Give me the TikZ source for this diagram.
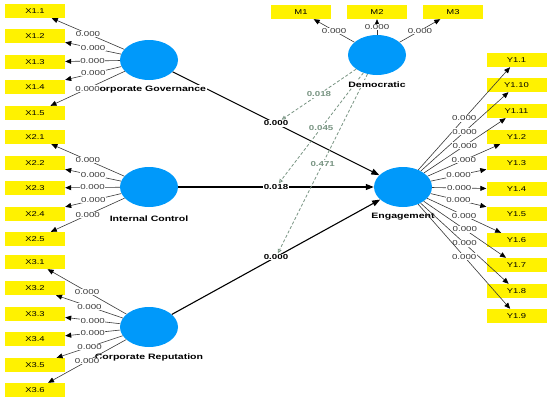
\documentclass[tikz,border=0pt]{standalone}
\usepackage{fontspec}
\setmainfont{Liberation Sans}[FakeStretch=1.35]
\usepackage{tikz}
\usetikzlibrary{
  arrows.meta,
  shapes.geometric,
  positioning
}
\usepackage{xcolor}
\definecolor{latblue}{RGB}{0, 153, 250}
\definecolor{indyellow}{RGB}{255, 242, 0}
\definecolor{loadgray}{RGB}{55, 55, 55}
\definecolor{modclr}{RGB}{120, 148, 130}
\tikzset{
  % Latent variables
  latent/.style   = {ellipse, fill=latblue, minimum width=58pt, minimum height=40pt},
  latlab/.style   = {font=\fontsize{7.8}{9}\selectfont\bfseries, fill=white, inner sep=1pt},
  % Indicators
  indbox/.style   = {rectangle, fill=indyellow, minimum width=60pt, minimum height=14pt,
                     inner sep=0pt, font=\fontsize{7}{8}\selectfont},
  % Outer loadings
  loadline/.style = {-{Triangle[length=6pt, width=5pt, color=black]}, draw=loadgray, line width=0.6pt},
  loadlab/.style  = {midway, fill=white, inner sep=0.6pt, text=loadgray,
                     font=\fontsize{7.2}{8}\selectfont},
  % Structural paths
  pathline/.style = {-{Triangle[length=8pt, width=6pt]}, line width=1.1pt},
  pathlab/.style  = {midway, fill=white, inner sep=0.8pt, font=\fontsize{7.2}{8}\selectfont\bfseries},
  % Moderating effects
  modline/.style  = {-{Triangle[open, length=4pt, width=4pt]}, draw=modclr, densely dashed, line width=0.8pt},
  modlab/.style   = {midway, fill=white, inner sep=0.6pt, text=modclr, font=\fontsize{7.2}{8}\selectfont\bfseries},
}
\begin{document}
\begin{tikzpicture}[x=1pt, y=-1pt]
  \useasboundingbox (0,0) rectangle (550,402);

  % Latent variables
  \node[latent] (cg)  at (149,60)  {};
  \node[latent] (ic)  at (149,187) {};
  \node[latent] (cr)  at (149,327) {};
  \node[latent] (dem) at (377,55)  {};
  \node[latent] (eng) at (403,187) {};

  % Structural model
  \draw[pathline] (cg) -- (eng) node[pathlab] (pcg) {0.000};
  \draw[pathline] (ic) -- (eng) node[pathlab] (pic) {0.018};
  \draw[pathline] (cr) -- (eng) node[pathlab] (pcr) {0.000};

  % Moderation by Democratic
  \draw[modline] (dem) -- (pcg) node[modlab] {0.018};
  \draw[modline] (dem) -- (pic) node[modlab] {0.045};
  \draw[modline] (dem) -- (pcr) node[modlab] {0.471};

  % Construct names
  \node[latlab, below=5pt of cg]  (cglab)  {Corporate Governance};
  \node[latlab, below=7pt of ic]  (iclab)  {Internal Control};
  \node[latlab, below=5pt of cr]  (crlab)  {Corporate Reputation};
  \node[latlab, below=5pt of dem] (demlab) {Democratic};
  \node[latlab, below=5pt of eng] (englab) {Engagement};

  % Indicators
  \foreach \n/\y in {1/11, 2/36, 3/62, 4/87, 5/113}
    \node[indbox] (xa\n) at (35,\y) {X1.\n};
  \foreach \n/\y in {1/137, 2/163, 3/188, 4/214, 5/239}
    \node[indbox] (xb\n) at (35,\y) {X2.\n};
  \foreach \n/\y in {1/262, 2/288, 3/314, 4/339, 5/365, 6/390}
    \node[indbox] (xc\n) at (35,\y) {X3.\n};
  \foreach \n/\x in {1/301, 2/377, 3/453}
    \node[indbox] (m\n) at (\x,12) {M\n};
  \foreach \n/\t/\y in {1/1/60, 2/10/85, 3/11/111, 4/2/137, 5/3/163, 6/4/189,
                        7/5/214, 8/6/240, 9/7/265, 10/8/291, 11/9/316}
    \node[indbox] (yy\n) at (516.5,\y) {Y1.\t};

  % Outer loadings
  \foreach \n in {1,...,5}
    \draw[loadline] (cg) -- (xa\n) node[loadlab] {0.000};
  \foreach \n in {1,...,5}
    \draw[loadline] (ic) -- (xb\n) node[loadlab] {0.000};
  \foreach \n in {1,...,6}
    \draw[loadline] (cr) -- (xc\n) node[loadlab] {0.000};
  \foreach \n in {1,...,3}
    \draw[loadline] (dem) -- (m\n) node[loadlab] {0.000};
  \foreach \n in {1,...,11}
    \draw[loadline] (eng) -- (yy\n) node[loadlab] {0.000};
\end{tikzpicture}
\end{document}
